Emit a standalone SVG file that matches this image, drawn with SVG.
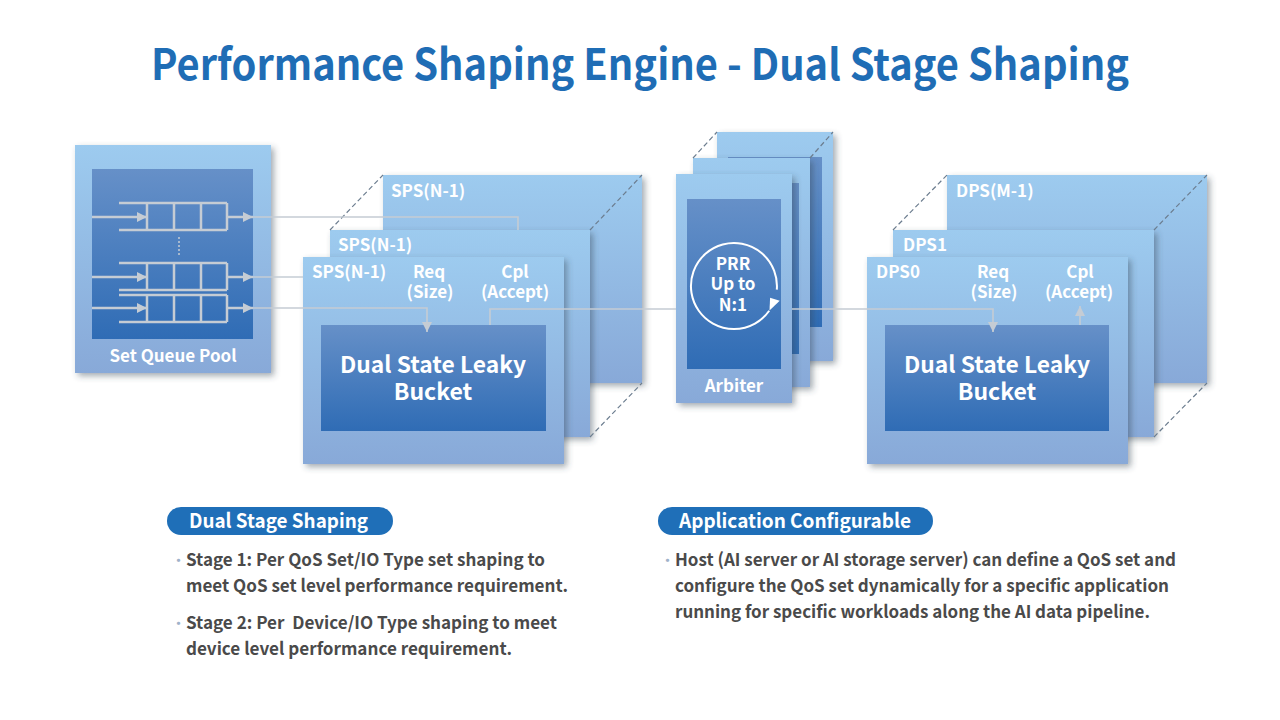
<svg xmlns="http://www.w3.org/2000/svg" width="1280" height="720" viewBox="0 0 1280 720">
<defs>
<linearGradient id="gBox" x1="0" y1="0" x2="0" y2="1">
<stop offset="0" stop-color="#9dcbef"/>
<stop offset="1" stop-color="#88a9d8"/>
</linearGradient>
<linearGradient id="gIn" x1="0" y1="0" x2="0" y2="1">
<stop offset="0" stop-color="#6690c8"/>
<stop offset="1" stop-color="#2f6cb5"/>
</linearGradient>
<filter id="sh" x="-10%" y="-10%" width="130%" height="130%">
<feDropShadow dx="3" dy="3" stdDeviation="3" flood-color="#334455" flood-opacity="0.45"/>
</filter>
<marker id="ah" viewBox="0 0 10 10" refX="10" refY="5" markerWidth="10" markerHeight="11" markerUnits="userSpaceOnUse" orient="auto">
<path d="M0,0 L10,5 L0,10 z" fill="#c5ccd4"/>
</marker>
<marker id="qh" viewBox="0 0 10 10" refX="10" refY="5" markerWidth="10" markerHeight="15" markerUnits="userSpaceOnUse" orient="auto">
<path d="M0,0 L10,5 L0,10 z" fill="#c5ccd4"/>
</marker>
<style>
text { font-family: "Noto Sans CJK SC", "Source Sans Pro", "Noto Sans", sans-serif; font-weight: 700; }
.box { fill: url(#gBox); filter: url(#sh); }
.inner { fill: url(#gIn); }
.lbl { fill: #ffffff; font-size: 17px; }
.big { fill: #ffffff; font-size: 23px; text-anchor: middle; }
.mid { text-anchor: middle; }
.dash { stroke: #6c7d8f; stroke-width: 1.2; stroke-dasharray: 5 3; fill: none; }
.q { stroke: #c5ccd4; stroke-width: 2.5; fill: none; }
.conn { stroke: #c5ccd4; stroke-width: 1.6; fill: none; }
.body { fill: #4a4a4a; font-size: 17.5px; }
.bul { fill: #9fb3ca; font-size: 13px; }
.pill { fill: #1f6fb8; }
.pilltxt { fill: #ffffff; font-size: 20px; }
</style>
</defs>
<rect width="1280" height="720" fill="#ffffff"/>

<text x="151" y="80" font-size="43" fill="#1f6db5" textLength="978" lengthAdjust="spacingAndGlyphs">Performance Shaping Engine - Dual Stage Shaping</text>

<g id="set-queue-pool">
<rect class="box" x="75" y="145" width="196" height="228"/>
<rect class="inner" x="92" y="169" width="161" height="170"/>
<g class="q">
<path d="M119,203 H227 M119,230 H227 M147,203 V230 M174,203 V230 M201,203 V230 M227,203 V230"/>
<path d="M119,263 H227 M119,290 H227 M147,263 V290 M174,263 V290 M201,263 V290 M227,263 V290"/>
<path d="M119,295 H227 M119,322 H227 M147,295 V322 M174,295 V322 M201,295 V322 M227,295 V322"/>
<path d="M92,217 H147" marker-end="url(#qh)"/>
<path d="M92,277 H147" marker-end="url(#qh)"/>
<path d="M92,308 H147" marker-end="url(#qh)"/>
<path d="M227,217 H253" marker-end="url(#qh)"/>
<path d="M227,277 H253" marker-end="url(#qh)"/>
<path d="M227,308 H253" marker-end="url(#qh)"/>
<path d="M179,237 V257" stroke-width="1.5" stroke-dasharray="2 2"/>
</g>
<text class="lbl mid" x="173" y="362">Set Queue Pool</text>
</g>

<g id="sps-stack">
<rect class="box" x="383" y="175" width="259" height="208"/>
<text class="lbl" x="391" y="197">SPS(N-1)</text>
<rect class="box" x="330" y="230" width="260" height="207"/>
<text class="lbl" x="338" y="251">SPS(N-1)</text>
<rect class="box" x="303" y="257" width="261" height="207"/>
<text class="lbl" x="312" y="278">SPS(N-1)</text>
<text class="lbl mid" x="429" y="278">Req</text>
<text class="lbl mid" x="430" y="298">(Size)</text>
<text class="lbl mid" x="515" y="278">Cpl</text>
<text class="lbl mid" x="515" y="298">(Accept)</text>
<rect class="inner" x="321" y="325" width="225" height="106"/>
<text class="big" x="433" y="373" textLength="186" lengthAdjust="spacingAndGlyphs">Dual State Leaky</text>
<text class="big" x="433" y="400">Bucket</text>
<path class="dash" d="M330,230 L383,175 M590,230 L642,175 M590,437 L642,383"/>
</g>

<g id="arbiter">
<rect class="box" x="717" y="132" width="116" height="229"/>
<rect class="inner" x="728" y="157" width="94" height="170"/>
<rect class="box" x="693" y="158" width="117" height="229"/>
<rect class="inner" x="704" y="183" width="95" height="171"/>
<rect class="box" x="676" y="174" width="116" height="229"/>
<rect class="inner" x="687" y="199" width="94" height="170"/>
<path d="M769.2,310.7 A43,43 0 1 1 776.8,289.7" fill="none" stroke="#ffffff" stroke-width="2"/>
<path d="M779.7,300.8 L770.1,297.8 L769.5,310.5 z" fill="#ffffff"/>
<text class="lbl mid" x="733" y="270" font-size="18">PRR</text>
<text class="lbl mid" x="733" y="290" font-size="18">Up to</text>
<text class="lbl mid" x="733" y="311" font-size="18">N:1</text>
<text class="lbl mid" x="734" y="392" font-size="18">Arbiter</text>
<path class="dash" d="M693,158 L717,132 M810,158 L833,132"/>
</g>

<g id="dps-stack">
<rect class="box" x="947" y="175" width="260" height="208"/>
<text class="lbl" x="956" y="197">DPS(M-1)</text>
<rect class="box" x="893" y="230" width="261" height="207"/>
<text class="lbl" x="903" y="251">DPS1</text>
<rect class="box" x="867" y="257" width="261" height="207"/>
<text class="lbl" x="876" y="278">DPS0</text>
<text class="lbl mid" x="993" y="278">Req</text>
<text class="lbl mid" x="994" y="298">(Size)</text>
<text class="lbl mid" x="1080" y="278">Cpl</text>
<text class="lbl mid" x="1079" y="298">(Accept)</text>
<rect class="inner" x="885" y="325" width="224" height="106"/>
<text class="big" x="997" y="373" textLength="186" lengthAdjust="spacingAndGlyphs">Dual State Leaky</text>
<text class="big" x="997" y="400">Bucket</text>
<path class="dash" d="M893,230 L947,175 M1154,230 L1207,175 M1154,437 L1207,383"/>
</g>

<g id="connectors">
<path class="conn" d="M253,217 H518 V230"/>
<path class="conn" d="M253,277 H303"/>
<path class="conn" d="M253,308 H427 V332" marker-end="url(#ah)"/>
<path class="conn" d="M490,325 V309 H676"/>
<path class="conn" d="M792,309 H993 V332" marker-end="url(#ah)"/>
<path class="conn" d="M1080,325 V306" marker-end="url(#ah)"/>
</g>

<g id="dual-stage-shaping">
<rect class="pill" x="167" y="507" width="226" height="28" rx="14"/>
<text class="pilltxt" x="189" y="528" textLength="179" lengthAdjust="spacingAndGlyphs">Dual Stage Shaping</text>
<text class="bul" x="172" y="565">•</text>
<text class="body" x="186" y="566" textLength="359" lengthAdjust="spacingAndGlyphs">Stage 1: Per QoS Set/IO Type set shaping to</text>
<text class="body" x="186" y="592" textLength="382" lengthAdjust="spacingAndGlyphs">meet QoS set level performance requirement.</text>
<text class="bul" x="172" y="628">•</text>
<text class="body" x="186" y="629" xml:space="preserve" textLength="371" lengthAdjust="spacingAndGlyphs">Stage 2: Per  Device/IO Type shaping to meet</text>
<text class="body" x="186" y="655" textLength="326" lengthAdjust="spacingAndGlyphs">device level performance requirement.</text>
</g>

<g id="application-configurable">
<rect class="pill" x="658" y="507" width="275" height="28" rx="14"/>
<text class="pilltxt" x="679" y="528" textLength="232" lengthAdjust="spacingAndGlyphs">Application Configurable</text>
<text class="bul" x="661" y="565">•</text>
<text class="body" x="675" y="566" textLength="501" lengthAdjust="spacingAndGlyphs">Host (AI server or AI storage server) can define a QoS set and</text>
<text class="body" x="675" y="592" textLength="494" lengthAdjust="spacingAndGlyphs">configure the QoS set dynamically for a specific application</text>
<text class="body" x="675" y="618" textLength="475" lengthAdjust="spacingAndGlyphs">running for specific workloads along the AI data pipeline.</text>
</g>
</svg>
